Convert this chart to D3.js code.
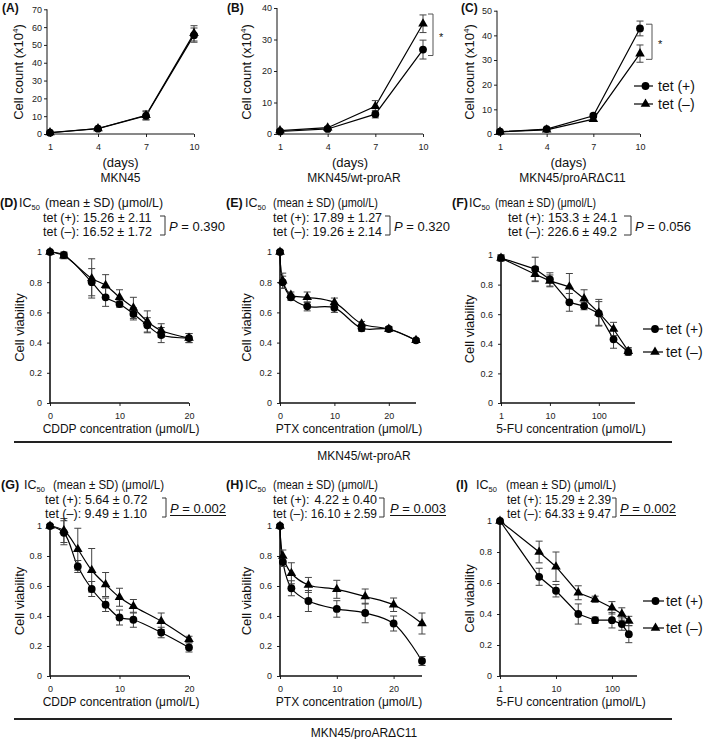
<!DOCTYPE html>
<html><head><meta charset="utf-8">
<script src="https://cdn.jsdelivr.net/npm/d3@7"></script>
<style>body{margin:0;background:#fff}svg{display:block}</style>
</head><body>
<script>
// ---------------- DATA ----------------
// Top row: growth curves (cell count x10^4)
const days = [1, 4, 7, 10];
const dayTicks = [1, 4, 7, 10];
const A_plus = [0.7, 3.0, 10.2, 55.5];
const A_plusErr = [0.3, 0.5, 2.3, 4.0];
const A_minus = [0.8, 3.1, 10.5, 56.5];
const A_minusErr = [0.3, 0.5, 2.5, 4.3];
const B_plus = [0.8, 1.6, 6.3, 26.8];
const B_plusErr = [0.3, 0.4, 1.2, 3.0];
const B_minus = [1.1, 2.0, 8.8, 35.0];
const B_minusErr = [0.3, 0.4, 1.8, 2.8];
const C_plus = [0.9, 2.0, 7.4, 42.8];
const C_plusErr = [0.2, 0.4, 0.8, 3.0];
const C_minus = [0.9, 1.7, 6.0, 32.6];
const C_minusErr = [0.2, 0.3, 0.8, 3.5];
const A_yTicks = [0, 10, 20, 30, 40, 50, 60, 70];
const B_yTicks = [0, 10, 20, 30, 40];
const C_yTicks = [0, 10, 20, 30, 40, 50];
const B_sig = [26.5, 36.5];
const C_sig = [32.3, 42.5];

// Viability: concentrations
const cddpConcD = [0, 2, 6, 8, 10, 12, 14, 16, 20];
const cddpConcG = [0, 2, 4, 6, 8, 10, 12, 16, 20];
const ptxConc = [0, 0.5, 2, 5, 10, 15, 20, 25];
const fuConcF = [1, 5, 10, 25, 50, 100, 200, 400];
const fuConcI = [1, 5, 10, 25, 50, 100, 150, 200];
const viaTicks = [0, 0.2, 0.4, 0.6, 0.8, 1];
const linTicks = [0, 10, 20];
const logTicks = [1, 10, 100];

const D_plus = [1.0, 0.98, 0.80, 0.70, 0.655, 0.59, 0.515, 0.45, 0.43];
const D_plusErr = [0.01, 0.02, 0.09, 0.06, 0.02, 0.04, 0.05, 0.05, 0.03];
const D_minus = [1.0, 0.975, 0.825, 0.78, 0.70, 0.63, 0.54, 0.48, 0.43];
const D_minusErr = [0.01, 0.02, 0.13, 0.07, 0.05, 0.07, 0.07, 0.045, 0.03];

const E_plus = [1.0, 0.80, 0.70, 0.64, 0.63, 0.495, 0.49, 0.415];
const E_plusErr = [0.01, 0.04, 0.02, 0.03, 0.03, 0.02, 0.015, 0.01];
const E_minus = [1.0, 0.81, 0.715, 0.70, 0.665, 0.525, 0.49, 0.415];
const E_minusErr = [0.01, 0.05, 0.02, 0.035, 0.03, 0.015, 0.015, 0.01];

const F_plus = [0.98, 0.905, 0.835, 0.68, 0.655, 0.605, 0.43, 0.345];
const F_plusErr = [0.02, 0.08, 0.045, 0.06, 0.025, 0.08, 0.06, 0.02];
const F_minus = [0.98, 0.87, 0.825, 0.785, 0.705, 0.61, 0.50, 0.35];
const F_minusErr = [0.02, 0.05, 0.04, 0.09, 0.06, 0.09, 0.045, 0.025];

const G_plus = [1.0, 0.955, 0.73, 0.58, 0.475, 0.39, 0.375, 0.29, 0.19];
const G_plusErr = [0.01, 0.08, 0.04, 0.05, 0.045, 0.05, 0.05, 0.035, 0.03];
const G_minus = [1.0, 0.97, 0.845, 0.705, 0.61, 0.525, 0.465, 0.365, 0.245];
const G_minusErr = [0.01, 0.08, 0.14, 0.145, 0.08, 0.06, 0.045, 0.055, 0.02];

const H_plus = [1.0, 0.76, 0.585, 0.50, 0.447, 0.42, 0.35, 0.10];
const H_plusErr = [0.01, 0.03, 0.05, 0.07, 0.055, 0.065, 0.05, 0.03];
const H_minus = [1.0, 0.80, 0.685, 0.607, 0.578, 0.53, 0.475, 0.35];
const H_minusErr = [0.01, 0.04, 0.07, 0.05, 0.06, 0.05, 0.045, 0.07];

const I_plus = [1.0, 0.64, 0.55, 0.40, 0.36, 0.36, 0.335, 0.27];
const I_plusErr = [0.005, 0.055, 0.04, 0.065, 0.02, 0.05, 0.04, 0.055];
const I_minus = [1.0, 0.80, 0.705, 0.537, 0.495, 0.44, 0.40, 0.355];
const I_minusErr = [0.005, 0.07, 0.095, 0.045, 0.02, 0.04, 0.04, 0.03];

// IC50 texts
const icPanels = ["(D)", "(E)", "(F)", "(G)", "(H)", "(I)"];
const icPlus = ["15.26 ± 2.11", "17.89 ± 1.27", "153.3 ± 24.1", "5.64 ± 0.72", "4.22 ± 0.40", "15.29 ± 2.39"];
const icMinus = ["16.52 ± 1.72", "19.26 ± 2.14", "226.6 ± 49.2", "9.49 ± 1.10", "16.10 ± 2.59", "64.33 ± 9.47"];
const icP = ["0.390", "0.320", "0.056", "0.002", "0.003", "0.002"];
const icSig = [false, false, false, true, true, true];

const cellLines = ["MKN45", "MKN45/wt-proAR", "MKN45/proARΔC11"];
const seriesNames = ["tet (+)", "tet (–)"];

// ---------------- DRAWING ----------------
const FONT = "'Liberation Sans', Arial, Helvetica, sans-serif";
const svg = d3.select("body").append("svg").attr("width", 706).attr("height", 739);
svg.append("rect").attr("width", 706).attr("height", 739).attr("fill", "#fff");

function txt(x, y, s, o = {}) {
  return svg.append("text").attr("x", x).attr("y", y)
    .attr("font-family", FONT).attr("font-size", o.size || 12)
    .attr("text-anchor", o.anchor || "start")
    .attr("font-weight", o.bold ? "bold" : null)
    .attr("fill", "#111").text(s);
}
// text squeezed horizontally (not shrunk) if wider than the available width
function fitText(x, y, s, size, width, anchor) {
  const t = txt(x, y, s, { size, anchor });
  if (t.node().getComputedTextLength() > width) {
    t.attr("textLength", width).attr("lengthAdjust", "spacingAndGlyphs");
  }
  return t;
}
function sym(m) {
  return m === "circle" ? d3.symbol(d3.symbolCircle, 48)() : d3.symbol(d3.symbolTriangle, 40)();
}

function drawPanel(p) {
  const g = svg.append("g");
  const x = p.x, y = p.y;
  const ya = g.append("g").attr("transform", `translate(${p.axX},0)`)
    .call(d3.axisLeft(y).tickValues(p.yTicks).tickFormat(p.yFmt).tickSize(3).tickPadding(p.yPad));
  ya.select(".domain").remove();
  const xa = g.append("g").attr("transform", `translate(0,${y(0)})`)
    .call(d3.axisBottom(x).tickValues(p.xTicks).tickFormat(p.xFmt).tickSize(3).tickPadding(7));
  xa.select(".domain").remove();
  [ya, xa].forEach(a => {
    a.selectAll("text").attr("font-family", FONT).attr("font-size", 9).attr("fill", "#222");
    a.selectAll("line").attr("stroke", "#222");
  });
  g.append("line").attr("x1", p.axX).attr("x2", p.axX).attr("y1", y(0)).attr("y2", y(p.yTicks[p.yTicks.length - 1]))
    .attr("stroke", "#111").attr("stroke-width", p.axW);
  g.append("line").attr("x1", p.axX).attr("x2", p.xEnd).attr("y1", y(0)).attr("y2", y(0))
    .attr("stroke", "#111").attr("stroke-width", p.axW);

  const sets = p.series.map(s => s.xs.map((xv, i) => ({ x: xv, y: s.ys[i], e: s.es[i] })));
  sets.forEach(pts => {
    g.append("path").datum(pts)
      .attr("d", d3.line().x(d => x(d.x)).y(d => y(d.y)).curve(p.curve))
      .attr("fill", "none").attr("stroke", "#000").attr("stroke-width", 1.2);
  });
  sets.forEach(pts => {
    const eb = g.append("g").attr("stroke", "#444").attr("stroke-width", 1);
    pts.forEach(d => {
      const cx = x(d.x), y1 = y(d.y + d.e), y2 = y(d.y - d.e);
      eb.append("line").attr("x1", cx).attr("x2", cx).attr("y1", y1).attr("y2", y2);
      eb.append("line").attr("x1", cx - 3.5).attr("x2", cx + 3.5).attr("y1", y1).attr("y2", y1);
      eb.append("line").attr("x1", cx - 3.5).attr("x2", cx + 3.5).attr("y1", y2).attr("y2", y2);
    });
  });
  sets.forEach((pts, k) => {
    g.selectAll(null).data(pts).join("path")
      .attr("transform", d => `translate(${x(d.x)},${y(d.y)})`)
      .attr("d", sym(p.series[k].marker)).attr("fill", "#000");
  });
  return g;
}

function yTitle(xb, yc, parts, size) {
  const t = svg.append("text").attr("transform", `translate(${xb},${yc}) rotate(-90)`)
    .attr("text-anchor", "middle").attr("font-family", FONT).attr("font-size", size).attr("fill", "#111");
  parts.forEach(pt => {
    const ts = t.append("tspan").text(pt.t);
    if (pt.sup) ts.attr("font-size", size * 0.62).attr("dy", -size * 0.38);
    if (pt.after) ts.attr("dy", size * 0.38);
  });
}

function legend(lx0, lx1, tx, ys) {
  ["circle", "triangle"].forEach((m, i) => {
    svg.append("line").attr("x1", lx0).attr("x2", lx1).attr("y1", ys[i]).attr("y2", ys[i]).attr("stroke", "#000").attr("stroke-width", 1.2);
    svg.append("path").attr("transform", `translate(${(lx0 + lx1) / 2 + 2},${ys[i]})`).attr("d", sym(m)).attr("fill", "#000");
    txt(tx, ys[i] + 5, seriesNames[i], { size: 14 });
  });
}

const fmtInt = d3.format("d");
const fmtVia = d => (d === 0 || d === 1) ? String(d) : d3.format(".1f")(d);
const fmtLin = d3.format("d");
const linCurve = d3.curveLinear;
const smooth = d3.curveCatmullRom.alpha(0.5);

// ---- Top row ----
const topPanels = [
  { lab: "(A)", lx: 2, x: d3.scaleLinear([1, 10], [50, 194]), y: d3.scaleLinear([0, 70], [134, 9.3]), axX: 47, yTicks: A_yTicks,
    series: [{ xs: days, ys: A_plus, es: A_plusErr, marker: "circle" }, { xs: days, ys: A_minus, es: A_minusErr, marker: "triangle" }], tx: 23 },
  { lab: "(B)", lx: 227, x: d3.scaleLinear([1, 10], [280, 423]), y: d3.scaleLinear([0, 40], [134, 8]), axX: 277, yTicks: B_yTicks,
    series: [{ xs: days, ys: B_plus, es: B_plusErr, marker: "circle" }, { xs: days, ys: B_minus, es: B_minusErr, marker: "triangle" }], tx: 251 },
  { lab: "(C)", lx: 461, x: d3.scaleLinear([1, 10], [500, 640]), y: d3.scaleLinear([0, 50], [134, 10.7]), axX: 497, yTicks: C_yTicks,
    series: [{ xs: days, ys: C_plus, es: C_plusErr, marker: "circle" }, { xs: days, ys: C_minus, es: C_minusErr, marker: "triangle" }], tx: 474 }
];
topPanels.forEach((p, i) => {
  drawPanel(Object.assign({ xTicks: dayTicks, xFmt: fmtInt, yFmt: fmtInt, yPad: 2, axW: 1, curve: linCurve, xEnd: p.x(10) }, p));
  txt(p.lx, 12, p.lab, { bold: true, size: 12 });
  yTitle(p.tx, 72, [{ t: "Cell count (x10" }, { t: "4", sup: true }, { t: ")", after: true }], 13);
  const cx = (p.axX + p.x(10)) / 2;
  txt(cx, 167, "(days)", { anchor: "middle", size: 13 });
  txt(cx + (i === 0 ? 0 : 4), 182, cellLines[i], { anchor: "middle", size: 12 });
});
[[topPanels[1], B_sig, 428, 433], [topPanels[2], C_sig, 646, 652]].forEach(([p, s, b0, b1]) => {
  const ya = p.y(s[1]) - 5, yb = p.y(s[0]) + 5;
  svg.append("path").attr("d", `M${b0},${ya}H${b1}V${yb}H${b0}`).attr("fill", "none").attr("stroke", "#555").attr("stroke-width", 1);
  txt(b1 + 6, (ya + yb) / 2 + 6, "*", { size: 11 });
});
legend(634, 653, 658, [86, 104]);

// ---- Middle & bottom rows ----
const viaPanels = [
  { x: d3.scaleLinear([0, 20], [50, 189]), y: d3.scaleLinear([0, 1], [403, 252]), axX: 50, xEnd: 189, xTicks: linTicks, xFmt: fmtLin, curve: smooth,
    series: [{ xs: cddpConcD, ys: D_plus, es: D_plusErr, marker: "circle" }, { xs: cddpConcD, ys: D_minus, es: D_minusErr, marker: "triangle" }] },
  { x: d3.scaleLinear([0, 25], [280, 416]), y: d3.scaleLinear([0, 1], [403, 252]), axX: 280, xEnd: 416, xTicks: linTicks, xFmt: fmtLin, curve: smooth,
    series: [{ xs: ptxConc, ys: E_plus, es: E_plusErr, marker: "circle" }, { xs: ptxConc, ys: E_minus, es: E_minusErr, marker: "triangle" }] },
  { x: d3.scaleLog([1, 500], [501, 633]), y: d3.scaleLinear([0, 1], [403, 255]), axX: 501, xEnd: 635, xTicks: logTicks, xFmt: fmtLin, curve: linCurve,
    series: [{ xs: fuConcF, ys: F_plus, es: F_plusErr, marker: "circle" }, { xs: fuConcF, ys: F_minus, es: F_minusErr, marker: "triangle" }] },
  { x: d3.scaleLinear([0, 20], [50, 189]), y: d3.scaleLinear([0, 1], [676, 526]), axX: 50, xEnd: 189, xTicks: linTicks, xFmt: fmtLin, curve: smooth,
    series: [{ xs: cddpConcG, ys: G_plus, es: G_plusErr, marker: "circle" }, { xs: cddpConcG, ys: G_minus, es: G_minusErr, marker: "triangle" }] },
  { x: d3.scaleLinear([0, 25], [280, 422]), y: d3.scaleLinear([0, 1], [676, 526]), axX: 280, xEnd: 422, xTicks: linTicks, xFmt: fmtLin, curve: smooth,
    series: [{ xs: ptxConc, ys: H_plus, es: H_plusErr, marker: "circle" }, { xs: ptxConc, ys: H_minus, es: H_minusErr, marker: "triangle" }] },
  { x: d3.scaleLog([1, 280], [500, 637]), y: d3.scaleLinear([0, 1], [676, 521]), axX: 500, xEnd: 637, xTicks: logTicks, xFmt: fmtLin, curve: linCurve,
    series: [{ xs: fuConcI, ys: I_plus, es: I_plusErr, marker: "circle" }, { xs: fuConcI, ys: I_minus, es: I_minusErr, marker: "triangle" }] }
];
const xTitles = ["CDDP concentration (μmol/L)", "PTX concentration (μmol/L)", "5-FU concentration (μmol/L)"];
const xTitleCx = [121, 349, 571];
const yTitleX = [24, 251, 474];

viaPanels.forEach((p, i) => {
  drawPanel(Object.assign({ yTicks: viaTicks, yFmt: fmtVia, yPad: 5, axW: 1.6 }, p));
  const col = i % 3;
  yTitle(yTitleX[col], (p.y(0) + p.y(1)) / 2, [{ t: "Cell viability" }], 13);
  txt(xTitleCx[col], p.y(0) + 30, xTitles[col], { anchor: "middle", size: 12 });
});

// header layout: label x, IC x, mean text span, tet rows span, bracket, P x, baseline
const hdr = [
  { lx: 0, icx: 19, m0: 45, m1: 163, tx: 43, ve: 157, b0: 160, b1: 165, px: 169, y: 207 },
  { lx: 226, icx: 245, m0: 273, m1: 378, tx: 273, ve: 382, b0: 385, b1: 390, px: 394, y: 207 },
  { lx: 452, icx: 469, m0: 495, m1: 596, tx: 508, ve: 621, b0: 624, b1: 631, px: 635, y: 207 },
  { lx: 1, icx: 24, m0: 53, m1: 164, tx: 45, ve: 160, b0: 162, b1: 166, px: 170, y: 489 },
  { lx: 226, icx: 245, m0: 273, m1: 378, tx: 273, ve: 377, b0: 379, b1: 384, px: 390, y: 489 },
  { lx: 456, icx: 476, m0: 506, m1: 616, tx: 507, ve: 611, b0: 612, b1: 616, px: 620, y: 489 }
];
hdr.forEach((h, i) => {
  txt(h.lx, h.y, icPanels[i], { bold: true, size: 12.5 });
  const ic = txt(h.icx, h.y, "IC", { size: 12.5 });
  ic.append("tspan").attr("font-size", 7.5).attr("dy", 3).text("50");
  fitText(h.m0, h.y, "(mean ± SD) (μmol/L)", 12.5, h.m1 - h.m0, "start");
  const y2 = h.y + 15, y3 = h.y + 29;
  [[y2, "tet (+):", icPlus[i], true], [y3, "tet (–):", icMinus[i], false]].forEach(([yy, lab, val, isPlus]) => {
    if (i === 4 && isPlus) {
      // H: short value right-aligned under the longer one
      txt(h.tx, yy, lab, { size: 12.5 });
      txt(h.ve, yy, val, { size: 12.5, anchor: "end" });
    } else {
      fitText(h.tx, yy, lab + " " + val, 12.5, h.ve - h.tx, "start");
    }
  });
  svg.append("path").attr("d", `M${h.b0},${y2 - 6}H${h.b1}V${y3 - 1}H${h.b0}`).attr("fill", "none").attr("stroke", "#333").attr("stroke-width", 1);
  const py = (y2 + y3) / 2 + 2;
  const pt = txt(h.px, py, "", { size: 13 });
  pt.append("tspan").attr("font-style", "italic").text("P");
  pt.append("tspan").text(" = " + icP[i]);
  if (icSig[i]) {
    const w = pt.node().getComputedTextLength();
    svg.append("line").attr("x1", h.px).attr("x2", h.px + w).attr("y1", py + 2.5).attr("y2", py + 2.5).attr("stroke", "#111").attr("stroke-width", 1);
  }
});

legend(643, 663, 666, [329, 352]);
legend(643, 664, 666, [601, 628]);

[[442, 460, 1], [719, 737, 2]].forEach(([ly, ty, k]) => {
  svg.append("line").attr("x1", 14).attr("x2", 672).attr("y1", ly).attr("y2", ly).attr("stroke", "#222").attr("stroke-width", 2);
  txt(364, ty, cellLines[k], { anchor: "middle", size: 12 });
});
</script>
</body></html>
